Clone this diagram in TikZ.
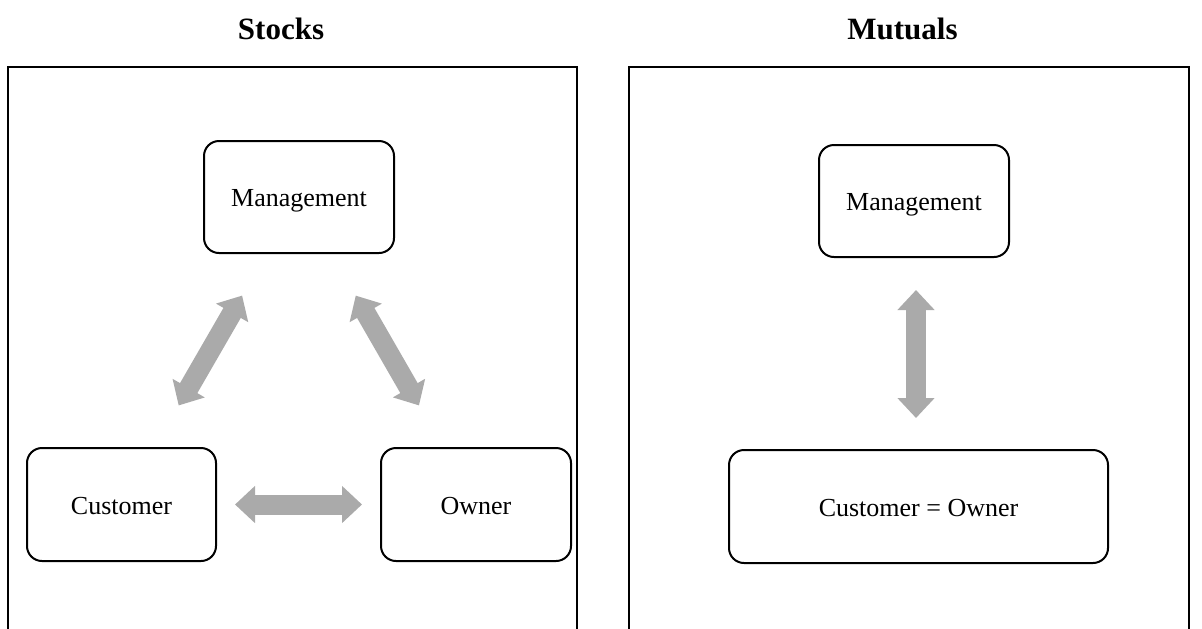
\documentclass[tikz,border=0pt]{standalone}
\usepackage{fontspec}
\setmainfont{Liberation Serif}
\usetikzlibrary{arrows.meta}
\definecolor{arrowgray}{RGB}{170,170,170}
\begin{document}
\begin{tikzpicture}[x=0.5pt,y=-0.5pt,
  frame/.style={line width=1pt},
  rbox/.style={draw, line width=1pt, rounded corners=7.5pt, font=\fontsize{13}{15}\selectfont,
     text height=9.5pt, text depth=0pt},
  title/.style={font=\fontsize{15.5}{18}\selectfont\bfseries},
  darrow/.style={draw=arrowgray, line width=10pt,
     {Triangle[width=18pt,length=10pt]}-{Triangle[width=18pt,length=10pt]}}]
\useasboundingbox (0,0) rectangle (1202,628);
% titles
\node[title] (t1) at (281,29) {Stocks};
\node[title] (t2) at (902.5,29) {Mutuals};
% frames
\draw[frame] (8,640) -- (8,67) -- (577,67) -- (577,640);
\draw[frame] (629,640) -- (629,67) -- (1189,67) -- (1189,640);
% left nodes
\node[rbox, minimum width=95pt, minimum height=56pt] (mgmt) at (299,197) {Management};
\node[rbox, minimum width=94.5pt, minimum height=56.5pt] (cust) at (121.5,504.5) {Customer};
\node[rbox, minimum width=95pt, minimum height=56.5pt] (own) at (476,504.5) {Owner};
% right nodes
\node[rbox, minimum width=95pt, minimum height=56pt] (mgmt2) at (914,201) {Management};
\node[rbox, minimum width=189.5pt, minimum height=56.5pt] (co) at (918.5,506.5) {Customer = Owner};
% arrows
\draw[darrow, shorten <=24pt, shorten >=24pt] (mgmt) -- (cust);
\draw[darrow, shorten <=24pt, shorten >=24pt] (mgmt) -- (own);
\draw[darrow, shorten <=9pt, shorten >=9pt] (cust) -- (own);
\coordinate (vtop) at (916,257);
\coordinate (vbot) at (916,450);
\draw[darrow, shorten <=16.5pt, shorten >=16pt] (vtop) -- (vbot);
\end{tikzpicture}
\end{document}
